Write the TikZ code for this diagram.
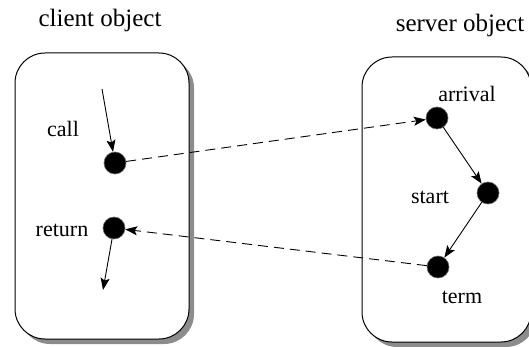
\documentclass[tikz,border=0pt]{standalone}
\usepackage{fontspec}
\setmainfont{Liberation Serif}
\usetikzlibrary{arrows.meta,shadows}
\begin{document}
\begin{tikzpicture}[x=1pt,y=-1pt,
 box/.style={draw, line width=1pt, rounded corners=30pt, fill=white, rectangle,
   drop shadow={shadow xshift=5pt, shadow yshift=-5pt, fill=black!45, opacity=1}},
 dot/.style={circle, fill=black, draw=black!60, line width=0.6pt, minimum size=22pt, inner sep=0pt},
 lbl/.style={font=\fontsize{22}{26}\selectfont, inner sep=0pt, anchor=base},
 ttl/.style={font=\fontsize{25}{30}\selectfont, inner sep=0pt, anchor=base},
 arr/.style={-{Stealth[length=12pt,width=9pt,inset=2.5pt]}, line width=0.9pt},
 darr/.style={arr, dash pattern=on 10pt off 6pt}]
\useasboundingbox (0,0) rectangle (529,347);
\begin{scope}
\clip (0,0) rectangle (529,347);
\node[box, minimum width=174pt, minimum height=286pt] (client) at (102,196) {};
\node[box, minimum width=169pt, minimum height=285pt] (server) at (446.5,199.5) {};

\node[ttl] (ct) at (100,27) {client object};
\node[ttl] (st) at (460,32) {server object};

\node[dot] (call) at (115,163) {};
\node[dot] (ret) at (114,228) {};
\node[dot] (arrival) at (437,118) {};
\node[dot] (start) at (488,193) {};
\node[dot] (term) at (438,267) {};

\node[lbl] (calll) at (63,137) {call};
\node[lbl] (retl) at (62,236) {return};
\node[lbl] (arrl) at (467,102) {arrival};
\node[lbl] (startl) at (430,204) {start};
\node[lbl] (terml) at (462,303) {term};

\coordinate (cin) at (102,89);
\coordinate (rout) at (103,290);

\draw[arr] (cin) -- (call);
\draw[arr] (ret) -- (rout);
\draw[darr] (call) -- (arrival);
\draw[arr] (arrival) -- (start);
\draw[arr] (start) -- (term);
\draw[darr] (term) -- (ret);
\end{scope}
\end{tikzpicture}
\end{document}
